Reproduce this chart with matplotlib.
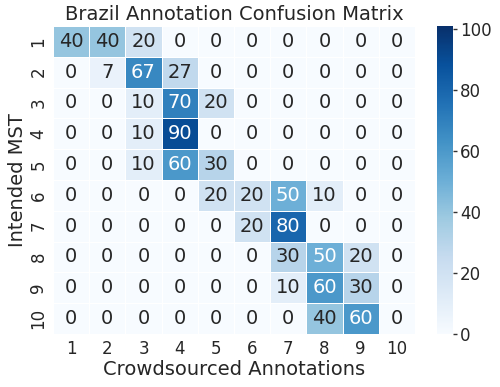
import numpy as np
import matplotlib
matplotlib.use('Agg')
import matplotlib.pyplot as plt
import seaborn as sns

# rows: intended MST, columns: crowdsourced annotation (percent)
labels = [str(i) for i in range(1, 11)]
row1 = [40, 40, 20, 0, 0, 0, 0, 0, 0, 0]
row2 = [0, 7, 67, 27, 0, 0, 0, 0, 0, 0]
row3 = [0, 0, 10, 70, 20, 0, 0, 0, 0, 0]
row4 = [0, 0, 10, 90, 0, 0, 0, 0, 0, 0]
row5 = [0, 0, 10, 60, 30, 0, 0, 0, 0, 0]
row6 = [0, 0, 0, 0, 20, 20, 50, 10, 0, 0]
row7 = [0, 0, 0, 0, 0, 20, 80, 0, 0, 0]
row8 = [0, 0, 0, 0, 0, 0, 30, 50, 20, 0]
row9 = [0, 0, 0, 0, 0, 0, 10, 60, 30, 0]
row10 = [0, 0, 0, 0, 0, 0, 0, 40, 60, 0]
cm = np.array([row1, row2, row3, row4, row5, row6, row7, row8, row9, row10])

sns.set_theme()
plt.rcParams['font.family'] = ['DejaVu Sans']

fig = plt.figure(figsize=(5, 3.87), dpi=100)
ax = fig.add_axes([0.106, 0.137, 0.724, 0.796])
cax = fig.add_axes([0.874, 0.137, 0.032, 0.796])

sns.heatmap(cm, ax=ax, cbar_ax=cax, cmap='Blues', vmin=0, vmax=101,
            annot=True, fmt='d', annot_kws={'size': 14},
            linewidths=0.5, linecolor='white',
            xticklabels=labels, yticklabels=labels)

ax.set_title('Brazil Annotation Confusion Matrix', fontsize=14, pad=4)
ax.set_xlabel('Crowdsourced Annotations', fontsize=14, labelpad=2)
ax.set_ylabel('Intended MST', fontsize=14, labelpad=2)
ax.tick_params(axis='both', labelsize=12, length=0, pad=4)
plt.setp(ax.get_yticklabels(), rotation=90, va='center')
plt.setp(ax.get_xticklabels(), rotation=0)

cax.set_yticks([0, 20, 40, 60, 80, 100])
cax.tick_params(labelsize=12, length=3, width=1, right=True, color='#333333', pad=2)

fig.savefig('out.png', dpi=100)
